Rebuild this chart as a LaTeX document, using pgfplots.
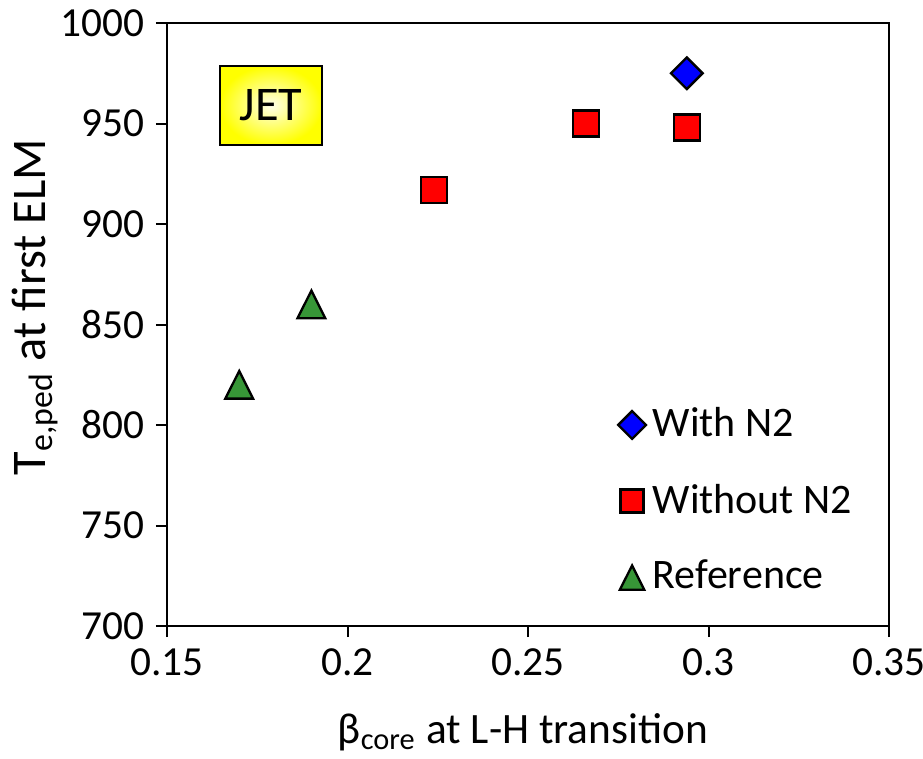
\documentclass[border=0pt]{standalone}
\usepackage{fontspec}
\setmainfont{Carlito}
\usepackage{pgfplots}
\pgfplotsset{compat=1.18}
\definecolor{mblue}{RGB}{0,0,255}
\definecolor{mred}{RGB}{255,0,0}
\definecolor{mgreen}{RGB}{55,150,55}
\begin{document}
\begin{tikzpicture}
\begin{axis}[
  name=ax,
  scale only axis, width=216.6pt, height=180.9pt,
  xmin=0.15, xmax=0.35, ymin=700, ymax=1000,
  xtick={0.15,0.2,0.25,0.3,0.35},
  xticklabels={0.15,0.2,0.25,0.3,0.35},
  ytick={700,750,800,850,900,950,1000},
  yticklabels={700,750,800,850,900,950,1000},
  tick align=outside, xtick pos=bottom, ytick pos=left,
  major tick length=3.3pt,
  tick style={black, line width=0.6pt},
  axis line style={line width=0.6pt},
  ticklabel style={font=\fontsize{12.4}{14}\selectfont},
  /pgf/number format/assume math mode=true,
  xlabel={β\textsubscript{core} at L-H transition},
  ylabel={T\textsubscript{e,ped} at first ELM},
  xlabel style={font=\fontsize{13}{15}\selectfont,
    at={(axis description cs:0.493,0)}, anchor=center, yshift=-31.8pt},
  ylabel style={font=\fontsize{14.5}{16}\selectfont,
    at={(axis description cs:-0.183,0.529)}, anchor=center},
  legend style={at={(0.624,0.374)}, anchor=north west, draw=none, fill=none,
    inner sep=0pt, font=\fontsize{12.6}{14}\selectfont, row sep=8.6pt},
  legend cell align=left,
  legend image code/.code={\draw[#1, every mark/.append style={scale=0.88}] plot coordinates {(0pt,0pt)};},
]
\addplot[only marks, mark=square*, mark size=3.35pt,
  mark options={rotate=45, fill=mblue, draw=black, line width=0.7pt}]
  coordinates {(0.294,975)};
\addlegendentry{With N2}
\addplot[only marks, mark=square*, mark size=3.9pt,
  mark options={fill=mred, draw=black, line width=0.7pt}]
  coordinates {(0.224,917) (0.266,950) (0.294,948)};
\addlegendentry{Without N2}
\addplot[only marks, mark=triangle*, mark size=4.8pt,
  mark options={yshift=-1.38pt, yscale=1.15, fill=mgreen, draw=black, line width=0.7pt}]
  coordinates {(0.17,820) (0.19,860)};
\addlegendentry{Reference}
\node[draw=black, line width=0.5pt, inner color=yellow!8, outer color=yellow,
  minimum width=30.6pt, minimum height=23.7pt, inner sep=0pt,
  font=\fontsize{14.5}{16}\selectfont] at (axis cs:0.1788,959) {JET};
\end{axis}
\pgfresetboundingbox
\path[use as bounding box] ([xshift=-50.1pt,yshift=-39.6pt]ax.south west)
  rectangle ([xshift=10.2pt,yshift=6.9pt]ax.north east);
\end{tikzpicture}
\end{document}
